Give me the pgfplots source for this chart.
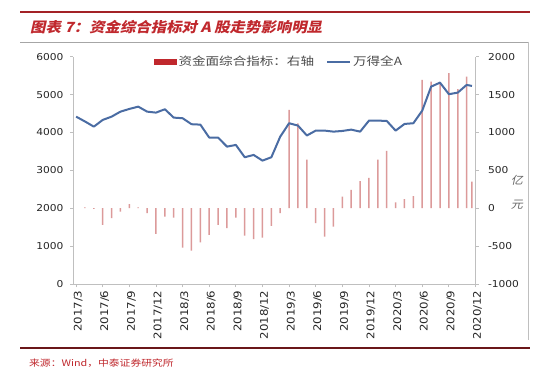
\documentclass[border=0pt]{standalone}
\usepackage{fontspec}
\usepackage{pgfplots}
\pgfplotsset{compat=1.18}
\setmainfont[FakeStretch=1.12]{DejaVu Sans}
\newfontfamily\cjk[FakeStretch=1.2]{Noto Sans CJK SC}
\newfontfamily\cjkt[FakeStretch=1.1,FakeSlant=0.22]{Noto Sans CJK SC}
\definecolor{barred}{HTML}{DC9A9A}
\definecolor{swred}{HTML}{C0282D}
\definecolor{linebl}{HTML}{4A6CA3}
\definecolor{titred}{HTML}{C0282D}
\definecolor{axgray}{HTML}{BFBFBF}
\definecolor{txt}{HTML}{262626}
\begin{document}
\begin{tikzpicture}[x=1pt,y=1pt]
\path[use as bounding box, fill=white] (0,0) rectangle (550,-377);
% frame lines
\draw[color=titred!85!black, line width=2pt] (20,-12) -- (530,-12);
\draw[color=gray!70, line width=0.8pt] (20,-42) -- (528,-42);
\draw[color=axgray, line width=0.8pt] (528,-42) -- (528,-340);
\draw[color=black!45!titred, line width=2.5pt] (20,-348) -- (530,-348);
\node[anchor=west, text=titred, font=\cjkt\bfseries\fontsize{14}{15}\selectfont, inner sep=0] at (30,-27) {图表 7：资金综合指标对 A 股走势影响明显};
\node[anchor=west, text=titred, font=\cjk\fontsize{9}{10}\selectfont, inner sep=0] at (29,-363) {来源：Wind，中泰证券研究所};
\node[text=gray!80!black, font=\cjkt\fontsize{11}{24}\selectfont, align=center, inner sep=0] at (517,-192) {亿\\元};
% bars on right axis
\begin{axis}[at={(73pt,-284pt)}, anchor=south west, scale only axis,
  width=402.5pt, height=227.3pt,
  xmin=-0.35, xmax=45, ymin=-1000, ymax=2000,
  axis x line=none, axis y line*=right,
  axis line style={draw=axgray, line width=0.8pt, -},
  ytick={-1000,-500,0,500,1000,1500,2000},
  tick align=outside, major tick length=3pt,
  tick style={draw=axgray, line width=0.8pt},
  yticklabel style={font=\fontsize{9.5}{10}\selectfont, text=txt, xshift=6pt},
  /pgf/number format/.cd, 1000 sep={}, assume math mode=true]
\addplot[ybar, bar width=1.5pt, fill=barred, draw=none] coordinates {
(1,10) (2,-10) (3,-220) (4,-132) (5,-45) (6,53) (7,10) (8,-66) (9,-340) (10,-110)
(11,-124) (12,-520) (13,-560) (14,-449) (15,-352) (16,-220) (17,-264) (18,-124) (19,-361) (20,-409)
(21,-387) (22,-233) (23,-66) (24,1298) (25,1120) (26,640) (27,-198) (28,-374) (29,-242) (30,154)
(31,242) (32,358) (33,400) (34,640) (35,756) (36,77) (37,119) (38,160) (39,1693) (40,1671)
(41,1658) (42,1782) (43,1571) (44,1737) (44.6,351)
};
\end{axis}
% line on left axis
\begin{axis}[at={(73pt,-284pt)}, anchor=south west, scale only axis,
  width=402.5pt, height=227.3pt,
  xmin=-0.35, xmax=45, ymin=0, ymax=6000,
  axis x line*=bottom, axis y line*=left,
  axis line style={draw=axgray, line width=0.8pt, -},
  ytick={0,1000,2000,3000,4000,5000,6000},
  xtick={0,3,6,9,12,15,18,21,24,27,30,33,36,39,42,45},
  xticklabels={2017/3,2017/6,2017/9,2017/12,2018/3,2018/6,2018/9,2018/12,2019/3,2019/6,2019/9,2019/12,2020/3,2020/6,2020/9,2020/12},
  tick align=outside, major tick length=3pt,
  tick style={draw=axgray, line width=0.8pt},
  yticklabel style={font=\fontsize{9.5}{10}\selectfont, text=txt, xshift=-3pt},
  xticklabel style={font=\fontsize{10.5}{11}\selectfont, text=txt, rotate=90, anchor=east, yshift=-2pt},
  legend style={at={(0.512,0.978)}, anchor=center, draw=none, fill=none,
    legend columns=2, font=\cjk\fontsize{11.3}{12}\selectfont, text=black!70,
    /tikz/every even column/.append style={column sep=10pt}},
  /pgf/number format/.cd, 1000 sep={}, assume math mode=true]
\addlegendimage{legend image code/.code={\fill[swred] (0pt,-2.6pt) rectangle (22pt,2.6pt);}}
\addlegendentry{资金面综合指标：右轴}
\addplot[color=linebl, line width=2pt, line join=round,
  legend image code/.code={\draw[color=linebl, line width=2pt] (0pt,0pt) -- (23pt,0pt);}] coordinates {
(0,4418) (1,4290) (2,4154) (3,4331) (4,4418) (5,4550) (6,4621) (7,4682) (8,4550) (9,4524)
(10,4613) (11,4392) (12,4376) (13,4218) (14,4207) (15,3864) (16,3864) (17,3626) (18,3671) (19,3346)
(20,3407) (21,3257) (22,3346) (23,3890) (24,4244) (25,4181) (26,3920) (27,4049) (28,4049) (29,4022)
(30,4040) (31,4075) (32,4022) (33,4313) (34,4313) (35,4304) (36,4049) (37,4225) (38,4244) (39,4577)
(40,5210) (41,5316) (42,5010) (43,5052) (44,5255) (44.6,5229)
};
\addlegendentry{万得全A}
\end{axis}
\end{tikzpicture}
\end{document}
